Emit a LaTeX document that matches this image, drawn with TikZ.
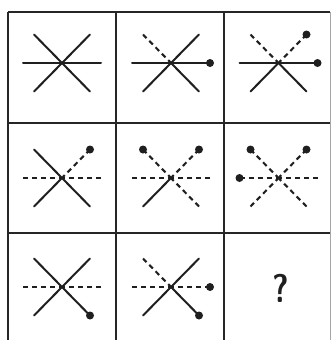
\documentclass[tikz,border=0pt]{standalone}
\usetikzlibrary{calc}
\tikzset{
  gridline/.style={line width=1.9pt, black!85},
  solidarm/.style={line width=2pt, black!88, line cap=round},
  dasharm/.style={line width=2.1pt, black!88, dash pattern=on 5pt off 4pt},
  enddot/.style={fill=black!88},
}
\newcommand\arm[4]{\draw[#4] ($(#1)+(#2,#3)$) -- (#1);}
\newcommand\armdot[3]{\fill[enddot] ($(#1)+(#2,#3)$) circle (4pt);}
\begin{document}
\begin{tikzpicture}[x=1pt,y=-1pt]
\useasboundingbox (0,0) rectangle (331,340);
% grid
\draw[gridline] (8,12) -- (330,12);
\draw[gridline] (8,123) -- (330,123);
\draw[gridline] (8,233) -- (330,233);
\draw[gridline] (8,12) -- (8,340);
\draw[gridline] (116,12) -- (116,340);
\draw[gridline] (224,12) -- (224,340);
\draw[line width=0.8pt, black!35] (330,12) -- (330,340);
% centres
\coordinate (c11) at (62,63);
\coordinate (c12) at (171,63);
\coordinate (c13) at (278.5,63);
\coordinate (c21) at (62,178);
\coordinate (c22) at (171,178);
\coordinate (c23) at (278.5,178);
\coordinate (c31) at (62,287);
\coordinate (c32) at (171,287);
\coordinate (c33) at (281,288);
% cell 11
\arm{c11}{-39}{0}{solidarm}\arm{c11}{39}{0}{solidarm}
\arm{c11}{-28}{-28.5}{solidarm}\arm{c11}{28}{-28.5}{solidarm}
\arm{c11}{-28}{28.5}{solidarm}\arm{c11}{28}{28.5}{solidarm}
% cell 12
\arm{c12}{-39}{0}{solidarm}\arm{c12}{39}{0}{solidarm}\armdot{c12}{39}{0}
\arm{c12}{-28}{-28.5}{dasharm}\arm{c12}{28}{-28.5}{solidarm}
\arm{c12}{-28}{28.5}{solidarm}\arm{c12}{28}{28.5}{solidarm}
% cell 13
\arm{c13}{-39}{0}{solidarm}\arm{c13}{39}{0}{solidarm}\armdot{c13}{39}{0}
\arm{c13}{-28}{-28.5}{dasharm}\arm{c13}{28}{-28.5}{dasharm}\armdot{c13}{28}{-28.5}
\arm{c13}{-28}{28.5}{solidarm}\arm{c13}{28}{28.5}{solidarm}
% cell 21
\arm{c21}{-39}{0}{dasharm}\arm{c21}{39}{0}{dasharm}
\arm{c21}{-28}{-28.5}{solidarm}\arm{c21}{28}{-28.5}{dasharm}\armdot{c21}{28}{-28.5}
\arm{c21}{-28}{28.5}{solidarm}\arm{c21}{28}{28.5}{solidarm}
% cell 22
\arm{c22}{-39}{0}{dasharm}\arm{c22}{39}{0}{dasharm}
\arm{c22}{-28}{-28.5}{dasharm}\armdot{c22}{-28}{-28.5}
\arm{c22}{28}{-28.5}{dasharm}\armdot{c22}{28}{-28.5}
\arm{c22}{-28}{28.5}{solidarm}\arm{c22}{28}{28.5}{dasharm}
% cell 23
\arm{c23}{-39}{0}{dasharm}\armdot{c23}{-39}{0}\arm{c23}{39}{0}{dasharm}
\arm{c23}{-28}{-28.5}{dasharm}\armdot{c23}{-28}{-28.5}
\arm{c23}{28}{-28.5}{dasharm}\armdot{c23}{28}{-28.5}
\arm{c23}{-28}{28.5}{dasharm}\arm{c23}{28}{28.5}{dasharm}
% cell 31
\arm{c31}{-39}{0}{dasharm}\arm{c31}{39}{0}{dasharm}
\arm{c31}{-28}{-28.5}{solidarm}\arm{c31}{28}{-28.5}{solidarm}
\arm{c31}{-28}{28.5}{solidarm}\arm{c31}{28}{28.5}{solidarm}\armdot{c31}{28}{28.5}
% cell 32
\arm{c32}{-39}{0}{dasharm}\arm{c32}{39}{0}{dasharm}\armdot{c32}{39}{0}
\arm{c32}{-28}{-28.5}{dasharm}\arm{c32}{28}{-28.5}{solidarm}
\arm{c32}{-28}{28.5}{solidarm}\arm{c32}{28}{28.5}{solidarm}\armdot{c32}{28}{28.5}
% cell 33
\node[text=black!88, xscale=0.8, inner sep=0pt] (q) at (c33) {\fontsize{40}{40}\selectfont\bfseries\sffamily ?};
\end{tikzpicture}
\end{document}
